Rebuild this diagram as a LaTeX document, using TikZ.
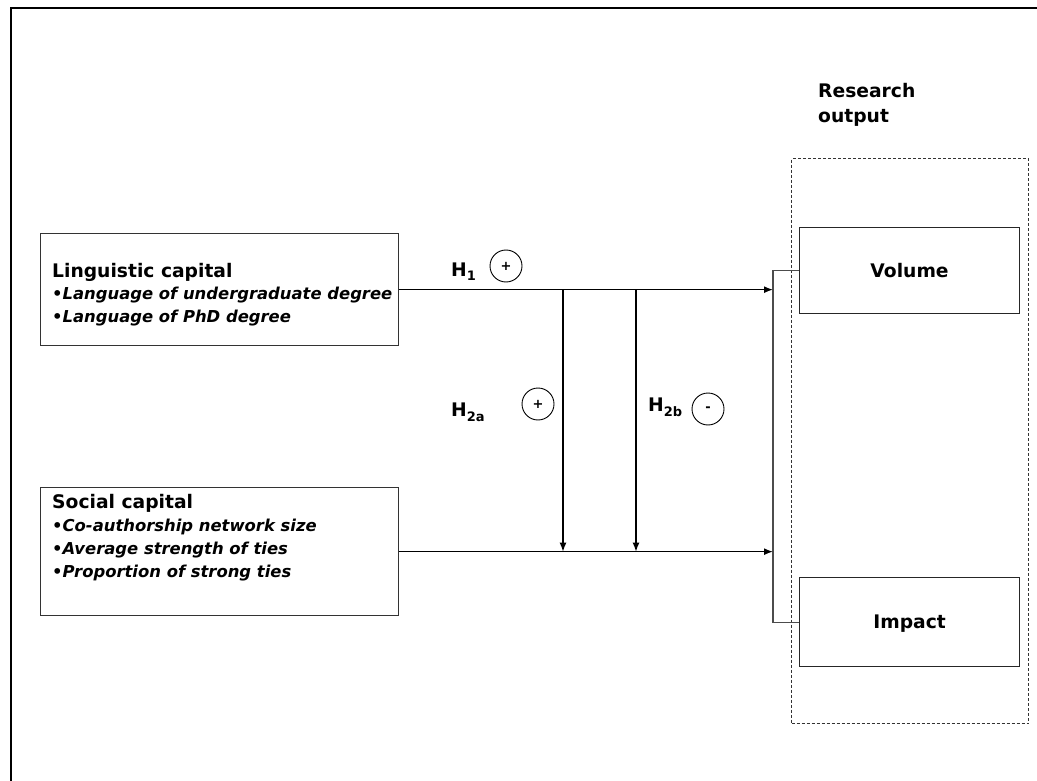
\documentclass[tikz,border=0pt]{standalone}
\usepackage{fontspec}
\setmainfont{DejaVu Sans}
\usetikzlibrary{arrows.meta}
% lowered small index for the hypothesis labels
\newcommand\hypsub[1]{\raisebox{-5pt}{\fontsize{13}{13}\selectfont #1}}
\begin{document}
\begin{tikzpicture}[x=1pt,y=-1pt,
  box/.style={draw=black!80, line width=1.3pt, inner sep=0pt, anchor=north west},
  outbox/.style={draw=black!85, line width=1.1pt, inner sep=0pt, anchor=north west,
    font=\fontsize{18.7}{23}\selectfont\bfseries, text height=13.6pt, text depth=0pt},
  heading/.style={font=\fontsize{18.7}{23}\selectfont\bfseries, inner sep=0pt, anchor=base west},
  item/.style={font=\fontsize{16.4}{23}\selectfont\bfseries\itshape, inner sep=0pt, anchor=base west},
  hyp/.style={font=\fontsize{18.7}{23}\selectfont\bfseries, inner sep=0pt, anchor=base west},
  sign/.style={circle, draw, line width=0.9pt, minimum size=32pt, inner sep=0pt,
    font=\fontsize{13}{13}\selectfont\bfseries},
  link/.style={line width=1.4pt, -{Latex[length=9pt,width=7pt]}},
  bracket/.style={draw=black!70, line width=1.1pt},
  group/.style={draw=black!80, line width=1.1pt, dash pattern=on 3pt off 2pt}
]
\useasboundingbox (0,0) rectangle (1037,781);

% outer frame (top and left edges)
\draw[line width=2pt] (11,781) -- (11,8) -- (1037,8);

% independent variables
\node[box, minimum width=358pt, minimum height=112pt] (ling) at (40,233) {};
\node[heading] (lingT) at (52,277) {Linguistic capital};
\node[item] (ling1) at (52,299) {•Language of undergraduate degree};
\node[item] (ling2) at (52,322) {•Language of PhD degree};

\node[box, minimum width=358pt, minimum height=128pt] (soc) at (40,487) {};
\node[heading] (socT) at (52,508) {Social capital};
\node[item] (soc1) at (52,531) {•Co-authorship network size};
\node[item] (soc2) at (52,554) {•Average strength of ties};
\node[item] (soc3) at (52,577) {•Proportion of strong ties};

% research output group
\node[heading] (ro1) at (818,98) {Research};
\node[heading] (ro2) at (818,123) {output};
\node[group, inner sep=0pt, anchor=north west, minimum width=237pt, minimum height=565pt] (grp) at (791,158) {};
\node[outbox, minimum width=220pt, minimum height=86pt] (vol) at (799,227) {Volume};
\node[outbox, minimum width=220pt, minimum height=89pt] (imp) at (799,577) {Impact};

% bracket joining both outcomes
\coordinate (bus) at ([xshift=-26pt]vol.west);
\draw[bracket] (vol.west) -- (bus) |- (imp.west);

% main effects
\draw[link] (ling.east) -- (ling.east -| bus);
\draw[link] (soc.east) -- (soc.east -| bus);

% moderating effects
\coordinate (tapA) at (ling.east -| 563,0);
\coordinate (tapB) at (ling.east -| 636,0);
\draw[link] (tapA) -- (tapA |- soc.east);
\draw[link] (tapB) -- (tapB |- soc.east);

% hypothesis labels and signs
\node[hyp] (H1) at (451,276) {H\hypsub{1}};
\node[sign] (s1) at (506,266) {+};
\node[hyp] (H2a) at (451,416) {H\hypsub{2a}};
\node[sign] (s2) at (538,404) {+};
\node[hyp] (H2b) at (648,411) {H\hypsub{2b}};
\node[sign] (s3) at (708,409) {-};
\end{tikzpicture}
\end{document}
